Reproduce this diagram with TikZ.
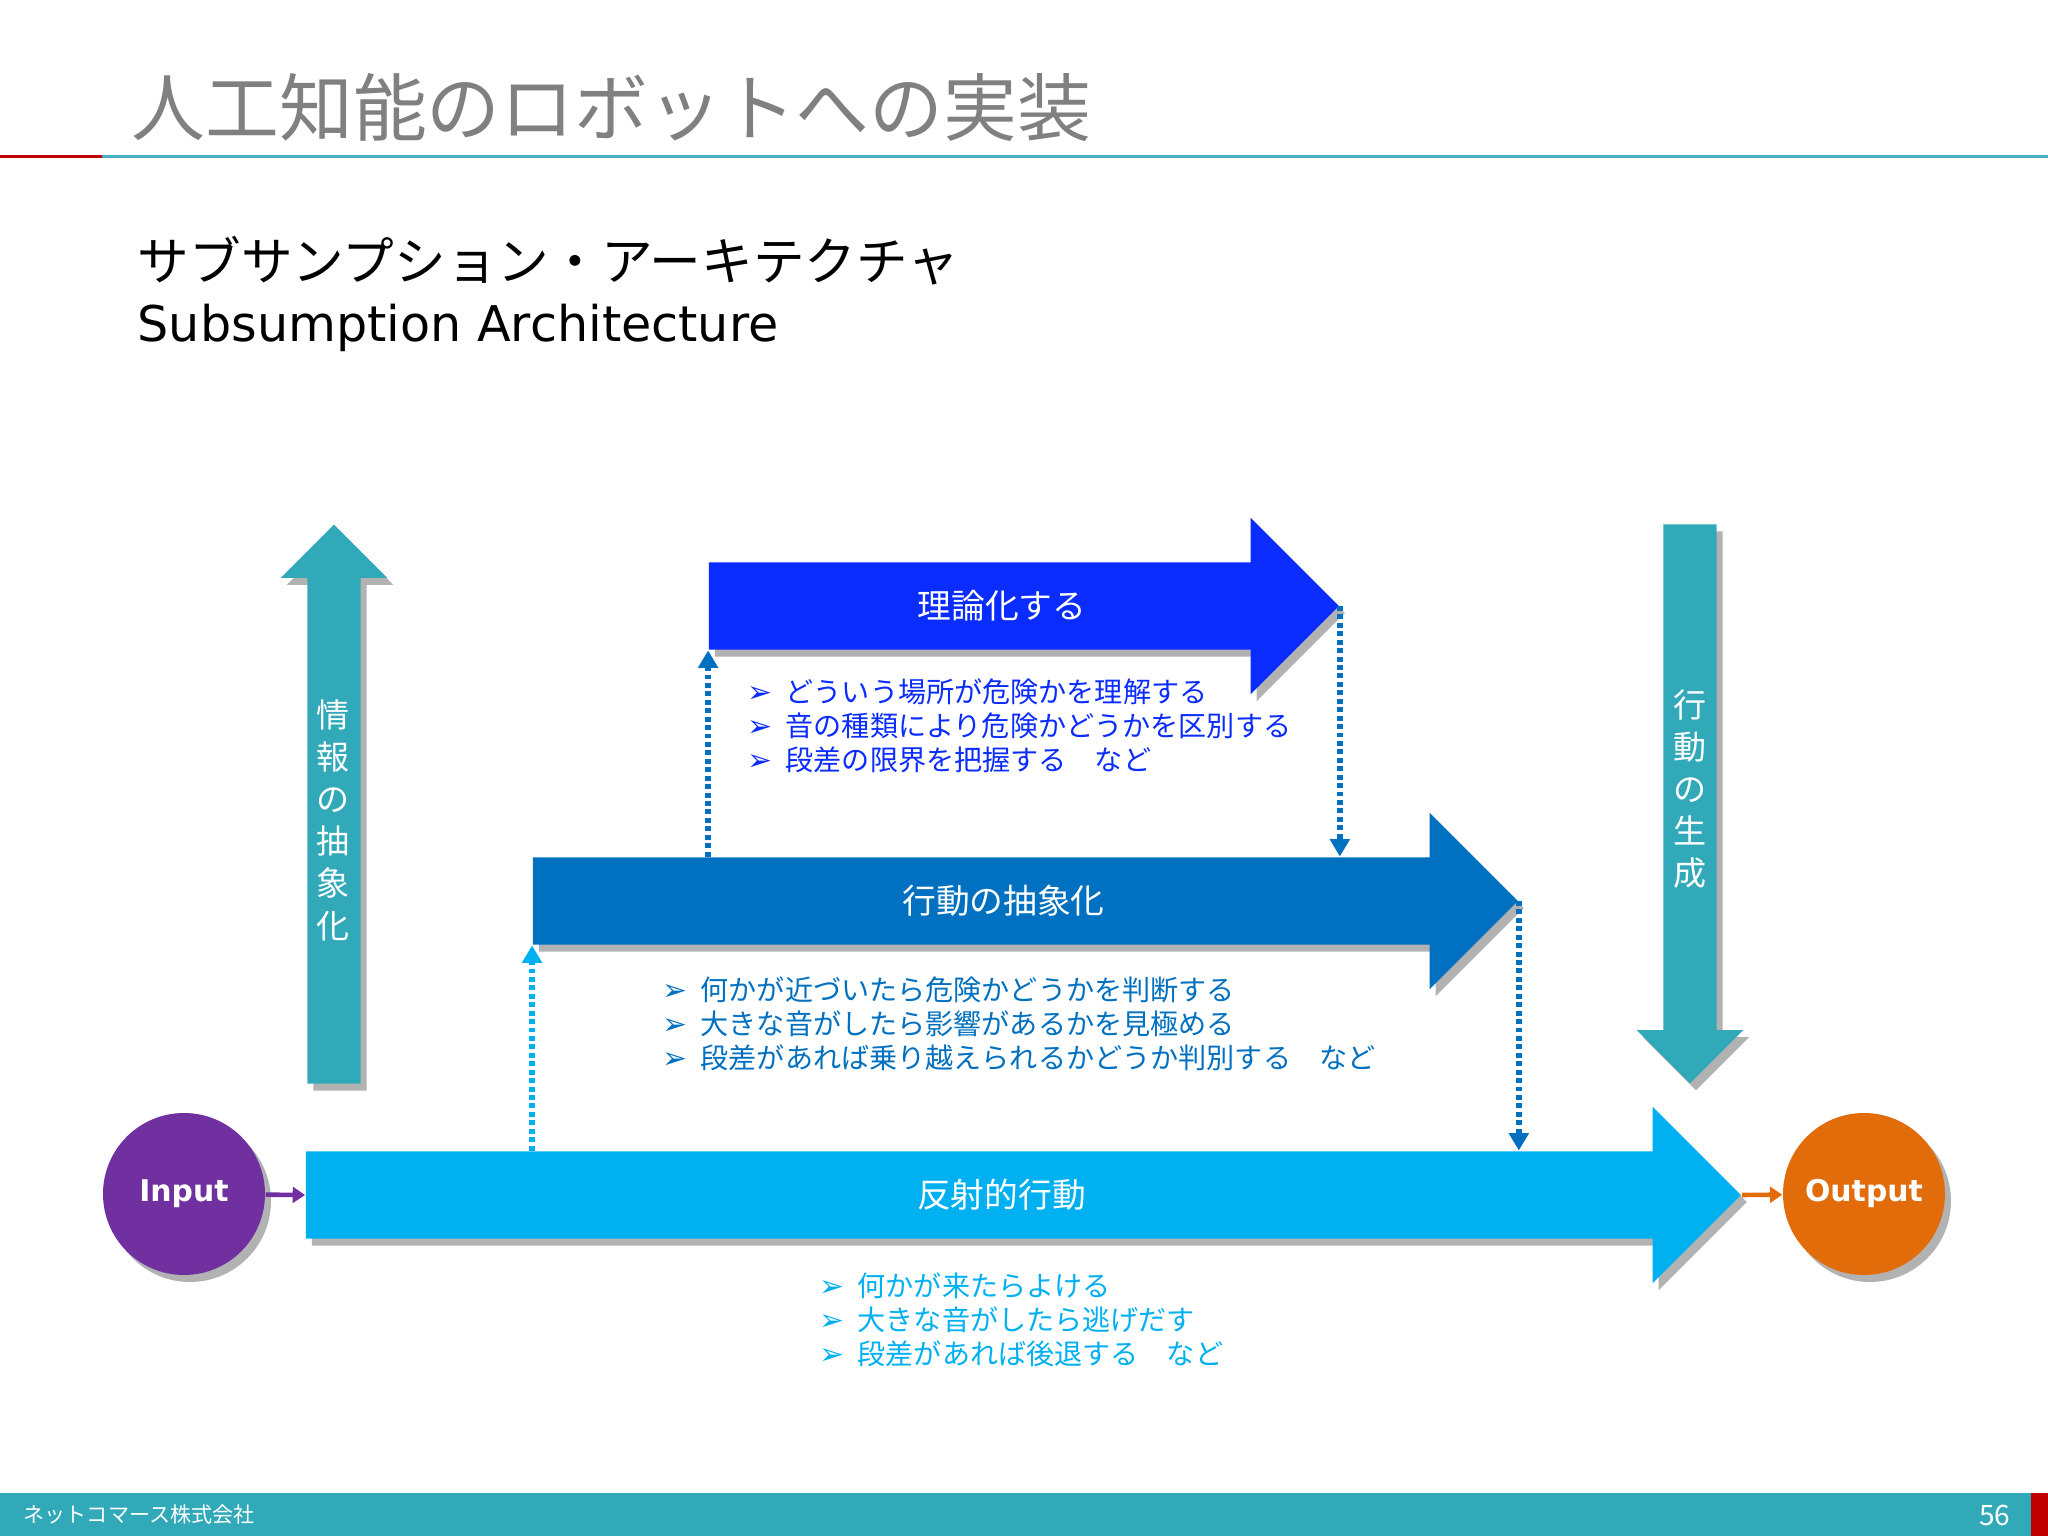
\documentclass[tikz,border=0pt]{standalone}
\usepackage{fontspec}
\setmainfont{Noto Sans CJK JP}
\newfontfamily\symfont{DejaVu Sans}
\newfontfamily\iofont{DejaVu Sans}
\usetikzlibrary{arrows.meta,shapes.arrows,shadows}
\definecolor{aqua}{HTML}{31A9B8}
\definecolor{royal}{HTML}{0A2CFF}
\definecolor{ocean}{HTML}{0070C0}
\definecolor{sky}{HTML}{00B0F0}
\definecolor{grape}{HTML}{7030A0}
\definecolor{amber}{HTML}{E36C0A}
\definecolor{rulecol}{HTML}{4BACC6}
\definecolor{crimson}{HTML}{C00000}
\newcommand{\itemmark}{\makebox[0.38cm][l]{\symfont\fontsize{8.5}{9}\selectfont ➢}}
\tikzset{lift/.style={drop shadow={shadow xshift=0.06cm,shadow yshift=-0.07cm,fill=black,opacity=0.3}},layer/.style={single arrow,single arrow head extend=0.445cm,inner sep=0pt,text height=0.86cm,text depth=0pt,lift},flow/.style={single arrow,fill=aqua,single arrow head extend=0.265cm,inner xsep=0.26cm,inner ysep=0pt,text height=0pt,text depth=0pt,minimum height=5.59cm,lift},lab/.style={text=white,font=\fontsize{9.6}{11}\selectfont},vlab/.style={text=white,align=center,font=\fontsize{9.4}{12}\selectfont},items/.style={anchor=west,align=left,inner sep=0pt,font=\fontsize{8}{9.7}\selectfont},dots/.style={line width=1.6pt,dash pattern=on 1.4pt off 1pt,-{Triangle[length=5pt,width=5.5pt]}},io/.style={circle,minimum size=1.62cm,inner sep=0pt,text=white,font=\iofont\bfseries\fontsize{8.5}{10}\selectfont,lift},feed/.style={line width=1.3pt,-{Triangle[length=3.5pt,width=4.5pt]}}}
\begin{document}
\begin{tikzpicture}
\useasboundingbox[fill=white](0,0) rectangle (20.48,-15.36);
\node[anchor=west,inner sep=0pt,text=black!50,font=\fontsize{21}{25}\selectfont] (title) at (1.31,-1.08) {人工知能のロボットへの実装};
\draw[color=crimson,line width=0.03cm](0,-1.57)--(1.02,-1.57);
\draw[color=rulecol,line width=0.03cm](1.02,-1.57)--(20.48,-1.57);
\node[anchor=west,inner sep=0pt,font=\fontsize{14.7}{17}\selectfont] (sub) at (1.37,-2.61) {サブサンプション・アーキテクチャ};
\node[anchor=base west,inner sep=0pt,font=\symfont\fontsize{14}{17}\selectfont] (en) at (1.37,-3.42) {Subsumption Architecture};
\node[flow,shape border rotate=90] (info) at (3.34,-8.175) {};
\node[flow,shape border rotate=270] (act) at (16.90,-7.905) {};
\node[vlab] (infol) at (3.33,-8.20) {情\\報\\の\\抽\\象\\化};
\node[vlab] (actl) at (16.90,-7.89) {行\\動\\の\\生\\成};
\node[layer,fill=royal,minimum height=6.30cm] (top) at (10.02,-6.06) {};
\node[layer,fill=ocean,minimum height=9.85cm] (mid) at (10.035,-9.01) {};
\node[layer,fill=sky,minimum height=14.35cm] (bot) at (10.015,-11.95) {};
\node[lab] (topl) at (top.center) {理論化する};
\node[lab] (midl) at (mid.center) {行動の抽象化};
\node[lab] (botl) at (bot.center) {反射的行動};
\node[io,fill=grape] (in) at (1.84,-11.94) {Input};
\node[io,fill=amber] (out) at (18.64,-11.94) {Output};
\draw[feed,grape](in)--(bot.180);
\draw[feed,amber](bot.tip)--(out);
\draw[dots,sky](bot.90 -| mid.180)--(mid.270 -| mid.180);
\draw[dots,ocean](mid.90 -| top.180)--(top.270 -| top.180);
\draw[dots,ocean](top.tip)--(mid.90 -| top.tip);
\draw[dots,ocean](mid.tip)--(bot.90 -| mid.tip);
\node[items,text=royal] (topi) at (7.47,-7.26) {\itemmark どういう場所が危険かを理解する\\\itemmark 音の種類により危険かどうかを区別する\\\itemmark 段差の限界を把握する　など};
\node[items,text=ocean] (midi) at (6.62,-10.24) {\itemmark 何かが近づいたら危険かどうかを判断する\\\itemmark 大きな音がしたら影響があるかを見極める\\\itemmark 段差があれば乗り越えられるかどうか判別する　など};
\node[items,text=sky] (boti) at (8.19,-13.20) {\itemmark 何かが来たらよける\\\itemmark 大きな音がしたら逃げだす\\\itemmark 段差があれば後退する　など};
\fill[crimson](20.31,-14.93) rectangle (20.48,-15.36);
\fill[aqua](0,-14.93) rectangle (20.31,-15.36);
\node[anchor=west,inner sep=0pt,text=white,font=\fontsize{6}{7}\selectfont] (corp) at (0.23,-15.15) {ネットコマース株式会社};
\node[anchor=east,inner sep=0pt,text=white,font=\fontsize{8}{9}\selectfont] (page) at (20.11,-15.15) {56};
\end{tikzpicture}
\end{document}
